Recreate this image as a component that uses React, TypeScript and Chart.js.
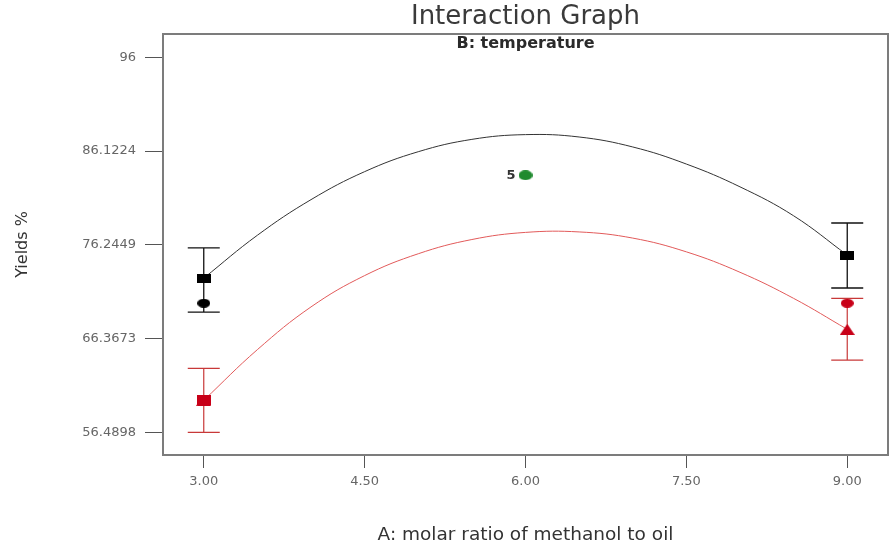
import React, { useEffect, useRef } from 'react';
import { Chart, registerables } from 'chart.js';

Chart.register(...registerables);

// ---- data ----
const xTicks = [3, 4.5, 6, 7.5, 9];
const xTickLabels = ['3.00', '4.50', '6.00', '7.50', '9.00'];
const yTicks = [56.4898, 66.3673, 76.2449, 86.1224, 96];
const yTickLabels = ['56.4898', '66.3673', '76.2449', '86.1224', '96'];

const fitX = [3, 3.5, 4, 4.5, 5, 5.5, 6, 6.5, 7, 7.5, 8, 8.5, 9];
const blackFit = [72.73, 77.25, 81.0, 83.95, 86.05, 87.35, 87.85, 87.6, 86.55, 84.75, 82.35, 79.3, 75.16];
const redFit = [59.86, 65.2, 69.7, 73.0, 75.3, 76.8, 77.55, 77.6, 76.95, 75.5, 73.35, 70.6, 67.34];

const designX = [3, 9];
const blackMean = [72.73, 75.16];
const blackLow = [69.16, 71.69];
const blackHigh = [75.91, 78.54];
const redMean = [59.86, 67.34];
const redLow = [56.49, 64.1];
const redHigh = [63.23, 70.6];

const blackObsX = [3];
const blackObs = [70.09];
const redObsX = [9];
const redObs = [70.09];
const redSquareX = [3];
const redSquare = [59.86];
const centerX = [6];
const centerY = [83.57];
const centerLabels = ['5'];

const FONT = "'DejaVu Sans', 'Liberation Sans', Arial, sans-serif";

function marker(shape: 'rect' | 'ellipse' | 'tri', w: number, h: number, color: string) {
  const c = document.createElement('canvas');
  c.width = w;
  c.height = h;
  const g = c.getContext('2d')!;
  g.fillStyle = color;
  g.beginPath();
  if (shape === 'rect') g.rect(0, 0, w, h);
  else if (shape === 'ellipse') g.ellipse(w / 2, h / 2, w / 2, h / 2, 0, 0, Math.PI * 2);
  else {
    g.moveTo(w / 2, 0);
    g.lineTo(w, h);
    g.lineTo(0, h);
    g.closePath();
  }
  g.fill();
  return c;
}

const pts = (xs: number[], ys: number[]) => xs.map((x, i) => ({ x, y: ys[i] }));

export default function App() {
  const ref = useRef<HTMLCanvasElement | null>(null);

  useEffect(() => {
    if (!ref.current) return;

    const blackSq = marker('rect', 14, 9, '#000000');
    const blackCirc = marker('ellipse', 13, 9, '#000000');
    const redTri = marker('tri', 15, 11, '#c80018');
    const redSq = marker('rect', 14, 10, '#c80018');
    const redCirc = marker('ellipse', 13, 9, '#c80018');
    const greenCirc = marker('ellipse', 14, 10, '#1f8a2e');

    const errorBars: any[] = [];
    designX.forEach((x, i) => {
      errorBars.push({
        data: [{ x, y: blackLow[i] }, { x, y: blackHigh[i] }],
        showLine: true,
        borderColor: '#111111',
        borderWidth: 1.3,
        pointStyle: 'line',
        pointRadius: 16,
        pointBorderWidth: 1.3,
        pointBorderColor: '#111111',
        order: 1,
      });
      errorBars.push({
        data: [{ x, y: redLow[i] }, { x, y: redHigh[i] }],
        showLine: true,
        borderColor: '#c83838',
        borderWidth: 1.2,
        pointStyle: 'line',
        pointRadius: 16,
        pointBorderWidth: 1.2,
        pointBorderColor: '#c83838',
        order: 1,
      });
    });

    const decor = {
      id: 'decor',
      beforeDatasetsDraw(chart: any) {
        const { ctx, chartArea: a } = chart;
        ctx.save();
        ctx.strokeStyle = '#7c7c7c';
        ctx.lineWidth = 2;
        ctx.strokeRect(a.left, a.top, a.right - a.left, a.bottom - a.top);
        ctx.fillStyle = '#2a2a2a';
        ctx.font = `bold 16px ${FONT}`;
        ctx.textAlign = 'center';
        ctx.textBaseline = 'middle';
        ctx.fillText('B: temperature', (a.left + a.right) / 2, a.top + 10);
        ctx.restore();
      },
      afterDatasetsDraw(chart: any) {
        const { ctx } = chart;
        const idx = chart.data.datasets.findIndex((d: any) => d.label === 'center');
        const meta = chart.getDatasetMeta(idx);
        ctx.save();
        ctx.fillStyle = '#333333';
        ctx.font = `bold 13px ${FONT}`;
        ctx.textAlign = 'right';
        ctx.textBaseline = 'middle';
        meta.data.forEach((el: any, i: number) => {
          ctx.fillText(centerLabels[i], el.x - 10, el.y);
        });
        ctx.restore();
      },
    };

    const chart = new Chart(ref.current, {
      type: 'scatter',
      data: {
        datasets: [
          { label: 'center', data: pts(centerX, centerY), pointStyle: greenCirc, pointRadius: 5, order: 0 },
          { label: 'blackMean', data: pts(designX, blackMean), pointStyle: blackSq, pointRadius: 5, order: 0 },
          { label: 'blackObs', data: pts(blackObsX, blackObs), pointStyle: blackCirc, pointRadius: 5, order: 0 },
          { label: 'redSquare', data: pts(redSquareX, redSquare), pointStyle: redSq, pointRadius: 5, order: 0 },
          { label: 'redMean', data: pts(designX, redMean), pointStyle: redTri, pointRadius: 5, order: 0 },
          { label: 'redObs', data: pts(redObsX, redObs), pointStyle: redCirc, pointRadius: 5, order: 0 },
          ...errorBars,
          {
            label: 'blackFit',
            data: pts(fitX, blackFit),
            showLine: true,
            borderColor: '#333333',
            borderWidth: 1,
            pointRadius: 0,
            tension: 0.4,
            order: 2,
          },
          {
            label: 'redFit',
            data: pts(fitX, redFit),
            showLine: true,
            borderColor: '#e25a5a',
            borderWidth: 1,
            pointRadius: 0,
            tension: 0.4,
            order: 2,
          },
        ] as any,
      },
      options: {
        animation: false,
        responsive: false,
        events: [],
        layout: { autoPadding: false, padding: { left: 0, right: 4, top: 0, bottom: 0 } },
        plugins: {
          legend: { display: false },
          tooltip: { enabled: false },
          title: {
            display: true,
            text: 'Interaction Graph',
            fullSize: false,
            color: '#3a3a3a',
            font: { family: FONT, size: 26, weight: 'normal', lineHeight: 1.2 },
            padding: { top: 2, bottom: 0.8 },
          },
        },
        scales: {
          x: {
            type: 'linear',
            min: 2.62,
            max: 9.38,
            afterFit: (s: any) => {
              s.height = 95;
              s.paddingLeft = 0;
              s.paddingRight = 0;
            },
            afterBuildTicks: (s: any) => {
              s.ticks = xTicks.map((v) => ({ value: v }));
            },
            ticks: {
              autoSkip: false,
              maxRotation: 0,
              padding: 6,
              color: '#666666',
              font: { family: FONT, size: 13 },
              callback: (_v: any, i: number) => xTickLabels[i],
            },
            grid: { drawOnChartArea: false, drawTicks: true, tickLength: 13, color: '#555555' },
            border: { display: false },
            title: {
              display: true,
              text: 'A: molar ratio of methanol to oil',
              color: '#333333',
              font: { family: FONT, size: 18.5, lineHeight: 1.2 },
              padding: { top: 0, bottom: 4 },
            },
          },
          y: {
            type: 'linear',
            min: 54.1,
            max: 98.45,
            afterFit: (s: any) => {
              s.width = 163;
              s.paddingTop = 0;
              s.paddingBottom = 0;
            },
            afterBuildTicks: (s: any) => {
              s.ticks = yTicks.map((v) => ({ value: v }));
            },
            ticks: {
              autoSkip: false,
              padding: 9,
              color: '#666666',
              font: { family: FONT, size: 13 },
              callback: (_v: any, i: number) => yTickLabels[i],
            },
            grid: { drawOnChartArea: false, drawTicks: true, tickLength: 18, color: '#555555' },
            border: { display: false },
            title: {
              display: true,
              text: 'Yields %',
              color: '#333333',
              font: { family: FONT, size: 16, lineHeight: 1.2 },
              padding: { top: 13, bottom: 0 },
            },
          },
        },
      },
      plugins: [decor],
    } as any);

    return () => chart.destroy();
  }, []);

  return (
    <div style={{ position: 'fixed', left: 0, top: 0, width: 892, height: 550, background: '#ffffff' }}>
      <canvas ref={ref} width={892} height={550} style={{ display: 'block', width: 892, height: 550 }} />
    </div>
  );
}
